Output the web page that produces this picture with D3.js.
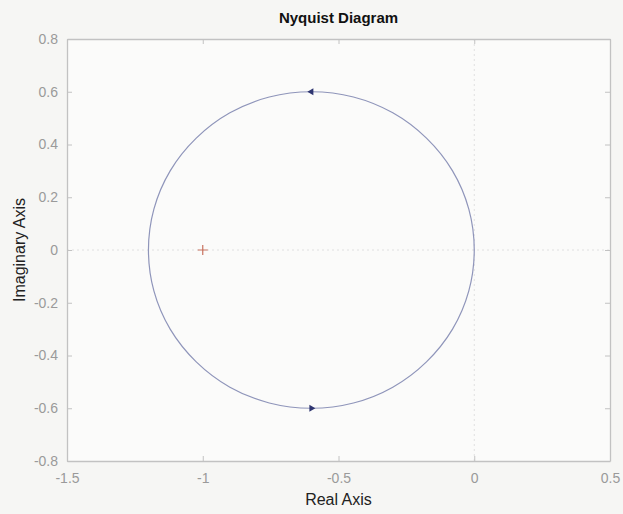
<!DOCTYPE html>
<html><head><meta charset="utf-8">
<script src="https://cdn.jsdelivr.net/npm/d3@7"></script>
<style>body{margin:0;background:#f6f6f4;}svg{display:block;}</style>
</head><body>
<script>
// Nyquist curve points (real, imaginary)
const curveReal = [0, -0.02, -0.08, -0.176, -0.3, -0.445, -0.6, -0.755, -0.9, -1.024, -1.12, -1.18, -1.2,
                   -1.18, -1.12, -1.024, -0.9, -0.755, -0.6, -0.445, -0.3, -0.176, -0.08, -0.02];
const curveImag = [0, 0.155, 0.3, 0.424, 0.52, 0.58, 0.6, 0.58, 0.52, 0.424, 0.3, 0.155, 0,
                   -0.155, -0.3, -0.424, -0.52, -0.58, -0.6, -0.58, -0.52, -0.424, -0.3, -0.155];
// direction arrows: position and direction (+1 right, -1 left)
const arrowReal = [-0.6, -0.6];
const arrowImag = [0.6, -0.6];
const arrowDir = [-1, 1];
// critical point
const critReal = [-1];
const critImag = [0];
const xTicks = [-1.5, -1, -0.5, 0, 0.5];
const yTicks = [0.8, 0.6, 0.4, 0.2, 0, -0.2, -0.4, -0.6, -0.8];
const xTickLabels = ["-1.5", "-1", "-0.5", "0", "0.5"];
const yTickLabels = ["0.8", "0.6", "0.4", "0.2", "0", "-0.2", "-0.4", "-0.6", "-0.8"];

const W = 623, H = 514;
const m = {left: 67, right: 13, top: 39, bottom: 53};
const svg = d3.select("body").append("svg").attr("width", W).attr("height", H);
const x = d3.scaleLinear().domain([-1.5, 0.5]).range([m.left, W - m.right]);
const y = d3.scaleLinear().domain([-0.8, 0.8]).range([H - m.bottom, m.top]);
const font = "'Liberation Sans', Arial, sans-serif";

svg.append("rect").attr("x", m.left).attr("y", m.top)
  .attr("width", x.range()[1] - m.left).attr("height", y.range()[0] - m.top)
  .attr("fill", "#fbfbfa");

// zero lines (dotted)
svg.append("line").attr("x1", x(-1.5)).attr("x2", x(0.5)).attr("y1", y(0)).attr("y2", y(0))
  .attr("stroke", "#e0e0e0").attr("stroke-dasharray", "2,3").attr("stroke-width", 1);
svg.append("line").attr("x1", x(0)).attr("x2", x(0)).attr("y1", y(-0.8)).attr("y2", y(0.8))
  .attr("stroke", "#e0e0e0").attr("stroke-dasharray", "2,3").attr("stroke-width", 1);

// axes (ticks inside)
const axColor = "#c2c2c2";
const gB = svg.append("g").attr("transform", `translate(0,${y(-0.8)})`)
  .call(d3.axisBottom(x).tickValues(xTicks).tickSizeInner(-5).tickSizeOuter(0).tickPadding(10)
    .tickFormat((d, i) => xTickLabels[i]));
const gT = svg.append("g").attr("transform", `translate(0,${y(0.8)})`)
  .call(d3.axisTop(x).tickValues(xTicks).tickSizeInner(-5).tickSizeOuter(0).tickFormat(""));
const gL = svg.append("g").attr("transform", `translate(${x(-1.5)},0)`)
  .call(d3.axisLeft(y).tickValues(yTicks).tickSizeInner(-5).tickSizeOuter(0).tickPadding(9)
    .tickFormat((d, i) => yTickLabels[i]));
const gR = svg.append("g").attr("transform", `translate(${x(0.5)},0)`)
  .call(d3.axisRight(y).tickValues(yTicks).tickSizeInner(-5).tickSizeOuter(0).tickFormat(""));
[gB, gT, gL, gR].forEach(g => {
  g.select(".domain").attr("stroke", axColor).attr("stroke-width", 1.3);
  g.selectAll(".tick line").attr("stroke", axColor);
  g.selectAll("text").attr("fill", "#9a9a9a").style("font-family", font).style("font-size", "14px");
});
gB.selectAll("text").attr("dy", "0.85em");

// Nyquist curve
const pts = curveReal.map((r, i) => [x(r), y(curveImag[i])]);
svg.append("path").attr("d", d3.line().curve(d3.curveCatmullRomClosed.alpha(0.5))(pts))
  .attr("fill", "none").attr("stroke", "#8f95ba").attr("stroke-width", 1.2);

// arrows
arrowReal.forEach((r, i) => {
  const cx = x(r), cy = y(arrowImag[i]), d = arrowDir[i];
  svg.append("path")
    .attr("d", `M${cx + d * 4},${cy} L${cx - d * 2},${cy - 3.5} L${cx - d * 2},${cy + 3.5} Z`)
    .attr("fill", "#2e3570");
});

// critical point
critReal.forEach((r, i) => {
  const cx = x(r), cy = y(critImag[i]);
  svg.append("path").attr("d", `M${cx - 5},${cy} H${cx + 5} M${cx},${cy - 5} V${cy + 5}`)
    .attr("stroke", "#c8735f").attr("stroke-width", 1.2);
});

// titles
svg.append("text").attr("x", (x(-1.5) + x(0.5)) / 2).attr("y", 23).attr("text-anchor", "middle")
  .style("font-family", font).style("font-size", "15px").style("font-weight", "bold")
  .attr("fill", "#111").text("Nyquist Diagram");
svg.append("text").attr("x", (x(-1.5) + x(0.5)) / 2).attr("y", 505).attr("text-anchor", "middle")
  .style("font-family", font).style("font-size", "16px").attr("fill", "#222").text("Real Axis");
svg.append("text").attr("transform", `translate(25,${y(0)}) rotate(-90)`).attr("text-anchor", "middle")
  .style("font-family", font).style("font-size", "16px").attr("fill", "#222").text("Imaginary Axis");
</script>
</body></html>
